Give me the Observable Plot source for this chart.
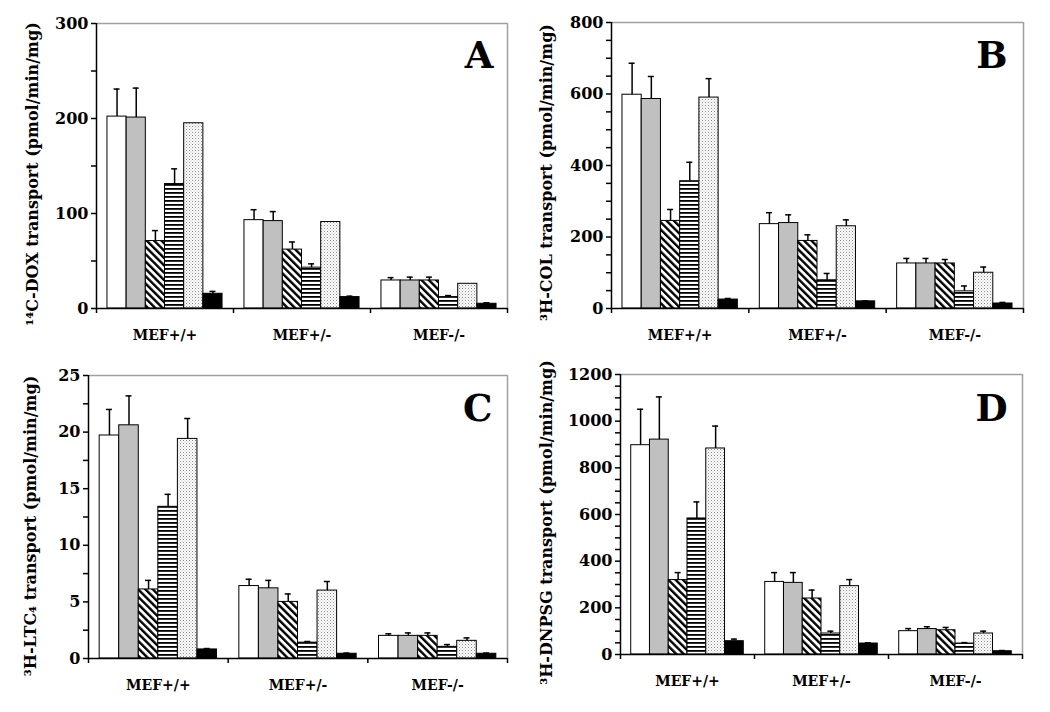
<!DOCTYPE html>
<html>
<head>
<meta charset="utf-8">
<script src="https://cdn.jsdelivr.net/npm/d3@7"></script>
<script src="https://cdn.jsdelivr.net/npm/@observablehq/plot@0.6"></script>
<style>
  body { margin: 0; background: #fff; }
  #wrap { position: relative; width: 1050px; height: 712px; background: #fff; overflow: hidden; }
  #wrap > svg { position: absolute; }
</style>
</head>
<body>
<div id="wrap"></div>
<script>
// ---------- data ----------
const groups = ["MEF+/+", "MEF+/-", "MEF-/-"];
const series = ["Bar 1", "Bar 2", "Bar 3", "Bar 4", "Bar 5", "Bar 6"];

// A: 14C-DOX transport (one row per group, six series each)
const doxMean = [[202, 201, 71, 131, 195, 15.5], [93, 92, 62, 43, 91, 12], [29.5, 29.5, 29.5, 12, 26, 5]];
const doxErr  = [[29, 31, 11, 16, 0, 2.5], [11, 10, 8, 4, 0, 1], [3, 3.5, 3.5, 1.6, 0, 1]];

// B: 3H-COL transport
const colMean = [[598, 586, 245, 356, 590, 25], [236, 239, 189, 79, 230, 20], [126, 126, 126, 48, 100, 14]];
const colErr  = [[88, 63, 32, 53, 53, 3], [32, 23, 17, 19, 18, 1], [14, 14, 11, 15, 16, 3]];

// C: 3H-LTC4 transport
const ltcMean = [[19.7, 20.6, 6.1, 13.4, 19.4, 0.8], [6.4, 6.2, 5.0, 1.4, 6.0, 0.42], [2.0, 2.0, 2.0, 1.03, 1.56, 0.42]];
const ltcErr  = [[2.3, 2.6, 0.8, 1.1, 1.8, 0.08], [0.6, 0.7, 0.7, 0.1, 0.8, 0.06], [0.18, 0.26, 0.26, 0.2, 0.26, 0.06]];

// D: 3H-DNPSG transport
const dnpMean = [[897, 921, 319, 583, 883, 57], [311, 307, 240, 90, 293, 47], [100, 109, 104, 47, 90, 14]];
const dnpErr  = [[154, 183, 32, 71, 96, 9], [40, 44, 36, 10, 28, 3], [11, 10, 12, 4, 10, 3]];

const yTicksA = d3.range(0, 301, 50);
const yTicksB = d3.range(0, 801, 50);
const yTicksC = d3.range(0, 25.01, 2.5);
const yTicksD = d3.range(0, 1201, 50);

const labels = {
  A: "¹⁴C-DOX transport (pmol/min/mg)",
  B: "³H-COL transport (pmol/min/mg)",
  C: "³H-LTC₄ transport (pmol/min/mg)",
  D: "³H-DNPSG transport (pmol/min/mg)"
};

// ---------- layout / style ----------
// ldx: label shift (px, screen x), ldy: label shift (px, screen y)
const panels = [
  {id: "A", mean: doxMean, err: doxErr, ticks: yTicksA, major: 100, label: labels.A,
   left: 0, top: 0, width: 525, height: 350, mt: 23, mr: 18, mb: 42, ml: 96, ldx: -64, ldy: 8, tdx: -14, tdy: 44},
  {id: "B", mean: colMean, err: colErr, ticks: yTicksB, major: 200, label: labels.B,
   left: 525, top: 0, width: 525, height: 350, mt: 22, mr: 27, mb: 42, ml: 86, ldx: -65, ldy: 7, tdx: -16, tdy: 45},
  {id: "C", mean: ltcMean, err: ltcErr, ticks: yTicksC, major: 5, label: labels.C,
   left: 0, top: 350, width: 525, height: 362, mt: 25, mr: 18, mb: 54, ml: 88, ldx: -58, ldy: 9, tdx: -15, tdy: 45},
  {id: "D", mean: dnpMean, err: dnpErr, ticks: yTicksD, major: 200, label: labels.D,
   left: 525, top: 350, width: 525, height: 362, mt: 24, mr: 28, mb: 58, ml: 95, ldx: -74, ldy: 8, tdx: -15, tdy: 46}
];

const slot = 0.14; // bar width in group units
const font = "'DejaVu Serif', 'Liberation Serif', serif";

function patternDefs(p) {
  return () => {
    const ns = "http://www.w3.org/2000/svg";
    const defs = document.createElementNS(ns, "defs");
    defs.innerHTML = `
      <pattern id="${p}-diag" patternUnits="userSpaceOnUse" width="5.2" height="5.2" patternTransform="rotate(-45)">
        <rect width="5.2" height="5.2" fill="#fff"/>
        <rect x="0" y="0" width="2.4" height="5.2" fill="#000"/>
      </pattern>
      <pattern id="${p}-horiz" patternUnits="userSpaceOnUse" width="4" height="4">
        <rect width="4" height="4" fill="#fff"/>
        <rect x="0" y="0" width="4" height="1.8" fill="#000"/>
      </pattern>
      <pattern id="${p}-dots" patternUnits="userSpaceOnUse" width="3" height="3">
        <rect width="3" height="3" fill="#fff"/>
        <rect x="0" y="0" width="1" height="1" fill="#8a8a8a"/>
        <rect x="1.5" y="1.5" width="1" height="1" fill="#b0b0b0"/>
      </pattern>`;
    return defs;
  };
}

const wrap = document.getElementById("wrap");

for (const p of panels) {
  const rows = [];
  groups.forEach((g, gi) => series.forEach((s, si) => {
    rows.push({group: g, gi, series: s, si, mean: p.mean[gi][si], err: p.err[gi][si]});
  }));
  const x1 = d => d.gi + (d.si - 3) * slot;
  const x2 = d => d.gi + (d.si - 2) * slot;
  const xc = d => d.gi + (d.si - 2.5) * slot;
  const ymax = p.ticks[p.ticks.length - 1];
  const fills = ["#ffffff", "#c0c0c0", `url(#${p.id}-diag)`, `url(#${p.id}-horiz)`, `url(#${p.id}-dots)`, "#000000"];

  const chart = Plot.plot({
    width: p.width,
    height: p.height,
    marginTop: p.mt, marginRight: p.mr, marginBottom: p.mb, marginLeft: p.ml,
    style: {fontFamily: font, fontSize: "14px", fontWeight: "bold", background: "transparent", overflow: "visible"},
    x: {type: "linear", domain: [-0.5, 2.5]},
    y: {domain: [0, ymax]},
    color: {type: "ordinal", domain: series, range: fills},
    marks: [
      patternDefs(p.id),
      Plot.ruleY([ymax], {stroke: "#a0a0a0", strokeWidth: 1.5}),
      Plot.ruleX([2.5], {stroke: "#a0a0a0", strokeWidth: 1.5}),
      Plot.rectY(rows, {x1, x2, y1: 0, y2: "mean", fill: "series", stroke: "#000", strokeWidth: 1}),
      Plot.ruleX(rows.filter(d => d.err > 0), {x: xc, y1: "mean", y2: d => d.mean + d.err, stroke: "#000", strokeWidth: 1.5}),
      Plot.ruleY(rows.filter(d => d.err > 0), {x1: xc, x2: xc, y: d => d.mean + d.err, insetLeft: -3, insetRight: -3, stroke: "#000", strokeWidth: 1.5}),
      Plot.ruleX([-0.5], {stroke: "#000", strokeWidth: 1.5}),
      Plot.ruleY([0], {stroke: "#000", strokeWidth: 1.5}),
      Plot.axisY({ticks: p.ticks, tickSize: 5, tickPadding: 3, strokeWidth: 1.5, fontSize: 16,
                  tickFormat: d => (Math.abs(d / p.major - Math.round(d / p.major)) < 1e-9 ? d3.format("d")(d) : ""), label: null}),
      Plot.axisX({ticks: [-0.5, 0.5, 1.5, 2.5], tickSize: 5, strokeWidth: 1.5, tickFormat: () => "", label: null}),
      Plot.axisX({ticks: [0, 1, 2], tickSize: 0, tickPadding: 22, tickFormat: i => groups[i], label: null}),
      Plot.text([p.label], {frameAnchor: "left", textAnchor: "middle", lineAnchor: "middle", rotate: -90, dx: p.ldx, dy: p.ldy, fontSize: 16, fontWeight: "bold", fill: "#000"}),
      Plot.text([p.id], {frameAnchor: "top-right", textAnchor: "end", lineAnchor: "bottom", dx: p.tdx, dy: p.tdy, fontSize: 37, fontWeight: "bold", fill: "#000"})
    ]
  });
  chart.style.left = p.left + "px";
  chart.style.top = p.top + "px";
  wrap.appendChild(chart);
}
</script>
</body>
</html>
